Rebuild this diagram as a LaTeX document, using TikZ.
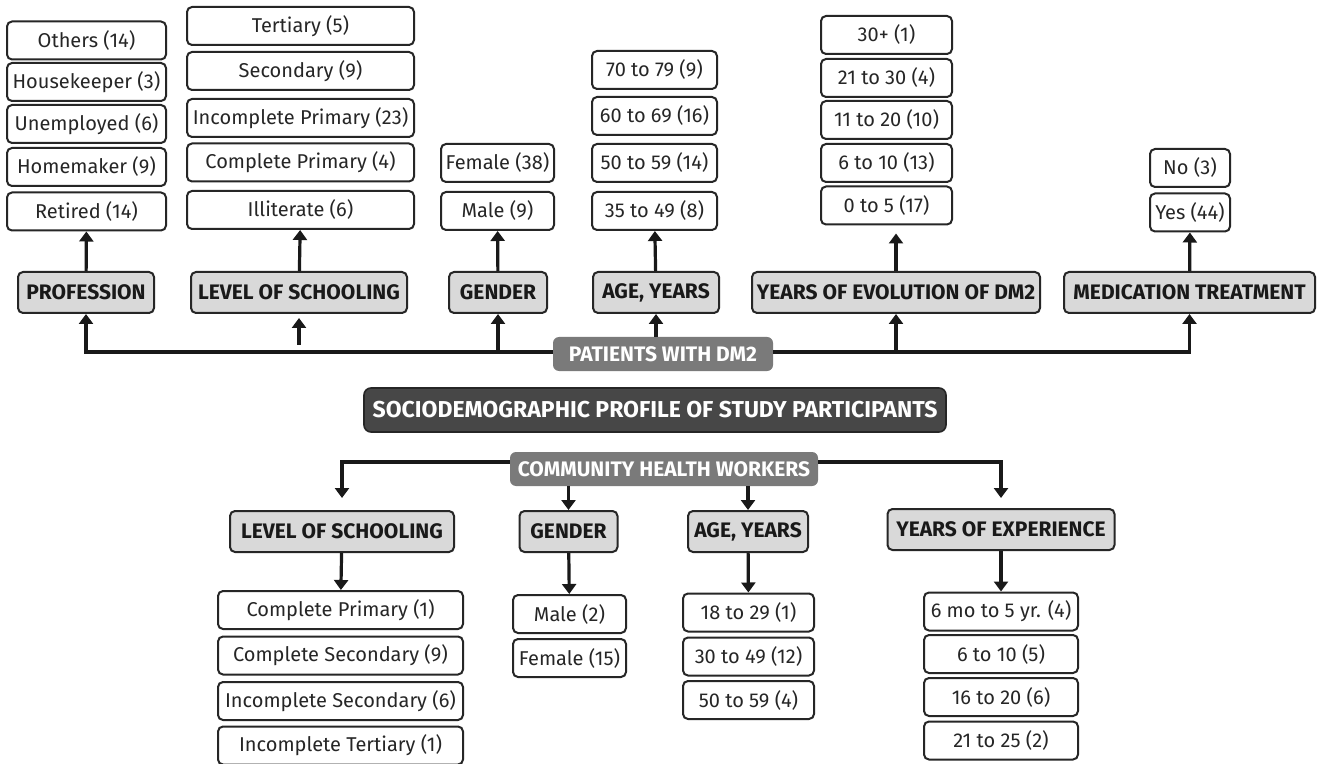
\documentclass[tikz,border=0pt]{standalone}
\usepackage{fontspec}
\setmainfont{Fira Sans}
\usepackage{tikz}
\usetikzlibrary{arrows.meta,positioning,calc}

\begin{document}
\begin{tikzpicture}[x=0.5pt, y=-0.5pt,
    valbox/.style={draw=black!85, line width=1pt, rounded corners=2.5pt, fill=white,
        minimum height=19pt, inner sep=0pt, text=black!85, font=\fontsize{10}{12}\selectfont},
    headbox/.style={draw=black!85, line width=1pt, rounded corners=2.5pt, fill=black!15,
        minimum height=20.5pt, inner sep=0pt, text=black!90, font=\bfseries\fontsize{10.5}{12}\selectfont},
    groupbox/.style={fill=black!52, rounded corners=3pt, minimum height=17pt, inner sep=0pt,
        text=white, font=\bfseries\fontsize{10.5}{12}\selectfont},
    titlebox/.style={draw=black!85, line width=0.8pt, fill=black!72, rounded corners=3.5pt,
        minimum height=22pt, inner sep=0pt, text=white, font=\bfseries\fontsize{11.5}{13}\selectfont},
    arr/.style={-{Triangle[width=7pt,length=5pt]}, line width=1.6pt, black!90},
    profcol/.style={valbox, minimum width=79.5pt},
    schcol/.style={valbox, minimum width=113.5pt},
    gencol/.style={valbox, minimum width=56.5pt},
    agecol/.style={valbox, minimum width=62.5pt},
    evocol/.style={valbox, minimum width=65.5pt},
    medcol/.style={valbox, minimum width=40pt},
    losbcol/.style={valbox, minimum width=122.5pt},
    genbcol/.style={valbox, minimum width=56.5pt},
    agebcol/.style={valbox, minimum width=65.5pt},
    yoecol/.style={valbox, minimum width=77pt}]
    \useasboundingbox[fill=white] (0,0) rectangle (1321,764);

    % Central titles
    \node[titlebox, minimum width=291pt] (title) at (655,410) {SOCIODEMOGRAPHIC PROFILE OF STUDY PARTICIPANTS};
    \node[groupbox, minimum width=110pt] (patients) at (663,354) {PATIENTS WITH DM2};
    \node[groupbox, minimum width=154pt] (chw) at (664,469) {COMMUNITY HEALTH WORKERS};

    % Patients: categories
    \node[headbox, minimum width=68pt] (profhead) at (86,292.5) {PROFESSION};
    \node[headbox, minimum width=108pt] (schhead) at (299,292.5) {LEVEL OF SCHOOLING};
    \node[headbox, minimum width=49pt] (genhead) at (498,292.5) {GENDER};
    \node[headbox, minimum width=63pt] (agehead) at (656,292.5) {AGE, YEARS};
    \node[headbox, minimum width=144pt] (evohead) at (896,292.5) {YEARS OF EVOLUTION OF DM2};
    \node[headbox, minimum width=125.5pt] (medhead) at (1189.5,292.5) {MEDICATION TREATMENT};

    % Patients: profession
    \node[profcol] (prof1) at (86.5,211.5) {Retired (14)};
    \node[profcol] (prof2) at (86.5,167) {Homemaker (9)};
    \node[profcol] (prof3) at (86.5,124) {Unemployed (6)};
    \node[profcol] (prof4) at (86.5,82) {Housekeeper (3)};
    \node[profcol] (prof5) at (86.5,40.5) {Others (14)};

    % Patients: schooling
    \node[schcol] (sch1) at (300.5,210) {Illiterate (6)};
    \node[schcol] (sch2) at (300.5,162.5) {Complete Primary (4)};
    \node[schcol] (sch3) at (300.5,118) {Incomplete Primary (23)};
    \node[schcol] (sch4) at (300.5,71) {Secondary (9)};
    \node[schcol] (sch5) at (300.5,26) {Tertiary (5)};

    % Patients: gender
    \node[gencol] (gen1) at (497.5,211) {Male (9)};
    \node[gencol] (gen2) at (497.5,163) {Female (38)};

    % Patients: age
    \node[agecol] (age1) at (654.5,211) {35 to 49 (8)};
    \node[agecol] (age2) at (654.5,163) {50 to 59 (14)};
    \node[agecol] (age3) at (654.5,116) {60 to 69 (16)};
    \node[agecol] (age4) at (654.5,70) {70 to 79 (9)};

    % Patients: years of evolution
    \node[evocol] (evo1) at (886.5,205.5) {0 to 5 (17)};
    \node[evocol] (evo2) at (886.5,163) {6 to 10 (13)};
    \node[evocol] (evo3) at (886.5,120) {11 to 20 (10)};
    \node[evocol] (evo4) at (886.5,78) {21 to 30 (4)};
    \node[evocol] (evo5) at (886.5,35) {30+ (1)};

    % Patients: medication
    \node[medcol] (med1) at (1190,212.5) {Yes (44)};
    \node[medcol] (med2) at (1190,168) {No (3)};

    % Patients: connectors
    \coordinate (schtrunk) at (299,352);
    \coordinate (gentrunk) at (498,352);
    \draw[arr] ([yshift=1pt]patients.west) -| (profhead.south);
    \draw[arr, shorten <=3.5pt, shorten >=2pt] (schtrunk) -- (schhead.south);
    \draw[arr] (gentrunk) -- (genhead.south);
    \draw[arr] (patients.north -| agehead) -- (agehead.south);
    \draw[arr] ([yshift=1pt]patients.east) -| (evohead.south);
    \draw[arr] ([yshift=1pt]patients.east) -| (medhead.south);
    \draw[arr] (profhead) -- (prof1);
    \draw[arr] (schhead) -- (sch1);
    \draw[arr] (genhead) -- (gen1);
    \draw[arr] (agehead) -- (age1);
    \draw[arr, shorten >=4pt] (evohead.north) -- (evohead.north |- evo1.south);
    \draw[arr] (medhead) -- (med1);

    % Community health workers: categories
    \node[headbox, minimum width=112pt] (losbhead) at (342,531.5) {LEVEL OF SCHOOLING};
    \node[headbox, minimum width=49pt] (genbhead) at (568.5,531.5) {GENDER};
    \node[headbox, minimum width=60pt] (agebhead) at (748,531.5) {AGE, YEARS};
    \node[headbox, minimum width=113.5pt] (yoehead) at (1001,529.5) {YEARS OF EXPERIENCE};

    % Community health workers: schooling
    \node[losbcol] (losb1) at (340.5,610) {Complete Primary (1)};
    \node[losbcol] (losb2) at (340.5,655.5) {Complete Secondary (9)};
    \node[losbcol] (losb3) at (340.5,701) {Incomplete Secondary (6)};
    \node[losbcol] (losb4) at (340.5,745.5) {Incomplete Tertiary (1)};

    % Community health workers: gender
    \node[genbcol] (genb1) at (569.5,614) {Male (2)};
    \node[genbcol] (genb2) at (569.5,658) {Female (15)};

    % Community health workers: age
    \node[agebcol] (ageb1) at (748.5,612.5) {18 to 29 (1)};
    \node[agebcol] (ageb2) at (748.5,656.5) {30 to 49 (12)};
    \node[agebcol] (ageb3) at (748.5,700) {50 to 59 (4)};

    % Community health workers: experience
    \node[yoecol] (yoe1) at (1001,611.5) {6 mo to 5 yr. (4)};
    \node[yoecol] (yoe2) at (1001,654) {6 to 10 (5)};
    \node[yoecol] (yoe3) at (1001,697) {16 to 20 (6)};
    \node[yoecol] (yoe4) at (1001,740.5) {21 to 25 (2)};

    % Community health workers: connectors
    \draw[arr, shorten >=6pt] ([yshift=3.5pt]chw.west) -| (losbhead.north);
    \draw[arr, shorten >=5pt] ([yshift=3.5pt]chw.east) -| (yoehead.north);
    \draw[arr] (chw.south -| genbhead) -- (genbhead.north);
    \draw[arr] (chw.south -| agebhead) -- (agebhead.north);
    \draw[arr] (losbhead) -- (losb1);
    \draw[arr] (genbhead) -- (genb1);
    \draw[arr] (agebhead) -- (ageb1);
    \draw[arr] (yoehead) -- (yoe1);
\end{tikzpicture}
\end{document}
